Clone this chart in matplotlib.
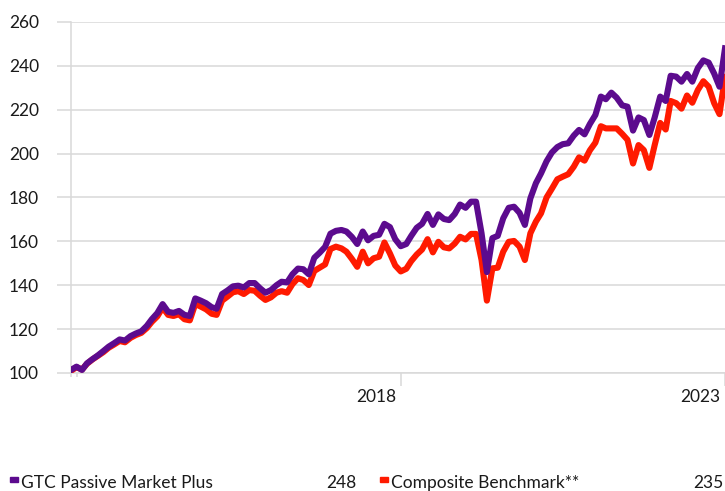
import matplotlib
matplotlib.use('Agg')
import matplotlib.pyplot as plt
import matplotlib.dates as mdates
import matplotlib.transforms as mtransforms
from matplotlib.patches import Rectangle
import pandas as pd

# monthly index values, Dec 2012 .. Jan 2023
start_month = '2012-12-01'
fund_name = 'GTC Passive Market Plus'
bench_name = 'Composite Benchmark**'
fund = [101.4, 102.9, 101.4, 104.4, 106.3, 108, 110, 112, 113.6, 115.3,
        114.8, 116.8, 118, 119, 121.5, 124.5, 127.3, 131.4, 127.9, 127.4,
        128.3, 126.5, 126, 134, 133, 131.8, 130, 129.3, 136, 137.6,
        139.5, 139.8, 139, 141, 141, 138.6, 136.6, 137.8, 140, 141.6,
        141.3, 145, 147.6, 147.3, 145, 152.5, 154.8, 157.5, 163.5, 164.8,
        165.2, 164.5, 162, 158.8, 164.5, 160.5, 162.5, 163, 168, 166.5,
        161, 157.8, 158.8, 162.5, 166.2, 168, 172.5, 167.5, 172.3, 170.2,
        169.7, 172.5, 176.8, 175.3, 178.1, 178.1, 163.7, 146, 161.5, 162.5,
        170.5, 175.3, 175.8, 173, 167.5, 179.6, 186.5, 191, 196.5, 200.5,
        203, 204.3, 204.7, 208.2, 210.8, 208.8, 213.5, 217.6, 226, 224.8,
        227.8, 225.5, 222, 221.4, 210.5, 216.5, 215.3, 208.5, 216.5, 226,
        224, 235.5, 235.1, 232.8, 236.3, 232.8, 239, 242.5, 241.5, 236.5,
        230.5, 248]
bench = [101, 102.6, 101.6, 104.2, 106.2, 107.8, 109.5, 111.5, 113, 114.6,
         114, 116, 117.3, 118.3, 120.5, 123.3, 125.8, 129.8, 126.5, 126,
         126.8, 124.5, 124, 131.5, 130.3, 129, 127, 126.5, 133, 134.8,
         136.8, 137.3, 136, 137.8, 137.5, 135.2, 133.3, 134.5, 136.6, 137.3,
         136.6, 140.5, 143.2, 142.4, 140.1, 146.5, 148, 149.5, 156.5, 157.6,
         156.8, 155.3, 152, 148.4, 155.3, 150, 152.3, 153, 159.5, 154.5,
         149, 146.3, 147.5, 151, 154, 156.3, 161, 155, 159.8, 157.3,
         156.8, 159, 162.1, 160.9, 163.4, 163.4, 151.5, 133, 147.7, 148,
         155.3, 159.8, 160.2, 157.6, 151.5, 163.7, 169, 172.8, 180, 184,
         188.3, 189.5, 190.6, 194, 198.3, 196.8, 201.5, 205, 212.5, 211.5,
         211.5, 211.5, 209, 206.3, 195.5, 203.9, 201.6, 193.5, 203.9, 214,
         211, 224, 223, 220.5, 226.5, 223.2, 229, 233, 230.5, 223,
         218, 235]
y_ticks = [100, 120, 140, 160, 180, 200, 220, 240, 260]
x_ticks = ['2018-01-01', '2023-01-01']
x_minor = ['2012-12-01', '2013-01-01']

dates = pd.date_range(start_month, periods=len(fund), freq='MS')

PURPLE = '#5c0b8e'
RED = '#ff1a00'
GRID = '#d9d9d9'
TXT = '#1a1a1a'

plt.rcParams['font.family'] = ['Lato', 'DejaVu Sans']

W, H = 725, 491
fig = plt.figure(figsize=(W / 100, H / 100), dpi=100)
ax = fig.add_axes([71 / W, 1 - 373 / H, 654 / W, 351 / H])

ax.plot(dates, bench, color=RED, lw=4.4, solid_joinstyle='round', zorder=3)
ax.plot(dates, fund, color=PURPLE, lw=4.4, solid_joinstyle='round', zorder=4)

ax.set_ylim(100, 260)
ax.set_xlim(dates[0], dates[-1])
ax.set_yticks(y_ticks)
ax.set_xticks(pd.to_datetime(x_ticks))
ax.xaxis.set_major_formatter(mdates.DateFormatter('%Y'))
ax.set_xticks(pd.to_datetime(x_minor), minor=True)

ax.grid(axis='y', color=GRID, lw=1.1)
ax.set_axisbelow(True)
for s in ['top', 'right']:
    ax.spines[s].set_visible(False)
for s in ['left', 'bottom']:
    ax.spines[s].set_color(GRID)
    ax.spines[s].set_linewidth(1.1)

ax.tick_params(axis='y', length=10, width=1.1, color=GRID, pad=13,
               labelsize=12.5, labelcolor=TXT)
ax.tick_params(axis='x', which='major', length=9.5, width=1.1, color=GRID,
               pad=2, labelsize=12.5, labelcolor=TXT)
ax.tick_params(axis='x', which='minor', length=3, width=1.1, color=GRID)

shift = mtransforms.ScaledTranslation(-3 / 72, 0, fig.dpi_scale_trans)
for lab in ax.get_xticklabels():
    lab.set_ha('right')
    lab.set_transform(lab.get_transform() + shift)

# legend row at the bottom
def px(x, y):
    return x / W, 1 - y / H

legend = [(10, fund_name, fund[-1], 356, PURPLE),
          (380, bench_name, bench[-1], 723, RED)]
for x0, name, last, xr, col in legend:
    fig.add_artist(Rectangle(px(x0, 482), 8 / W, 5 / H, color=col,
                             transform=fig.transFigure))
    fig.text(*px(x0 + 11, 483), name, fontsize=12.5, color=TXT, va='center')
    fig.text(*px(xr, 483), f'{last:.0f}', fontsize=12.5, color=TXT,
             va='center', ha='right')

fig.savefig('out.png', dpi=100)
